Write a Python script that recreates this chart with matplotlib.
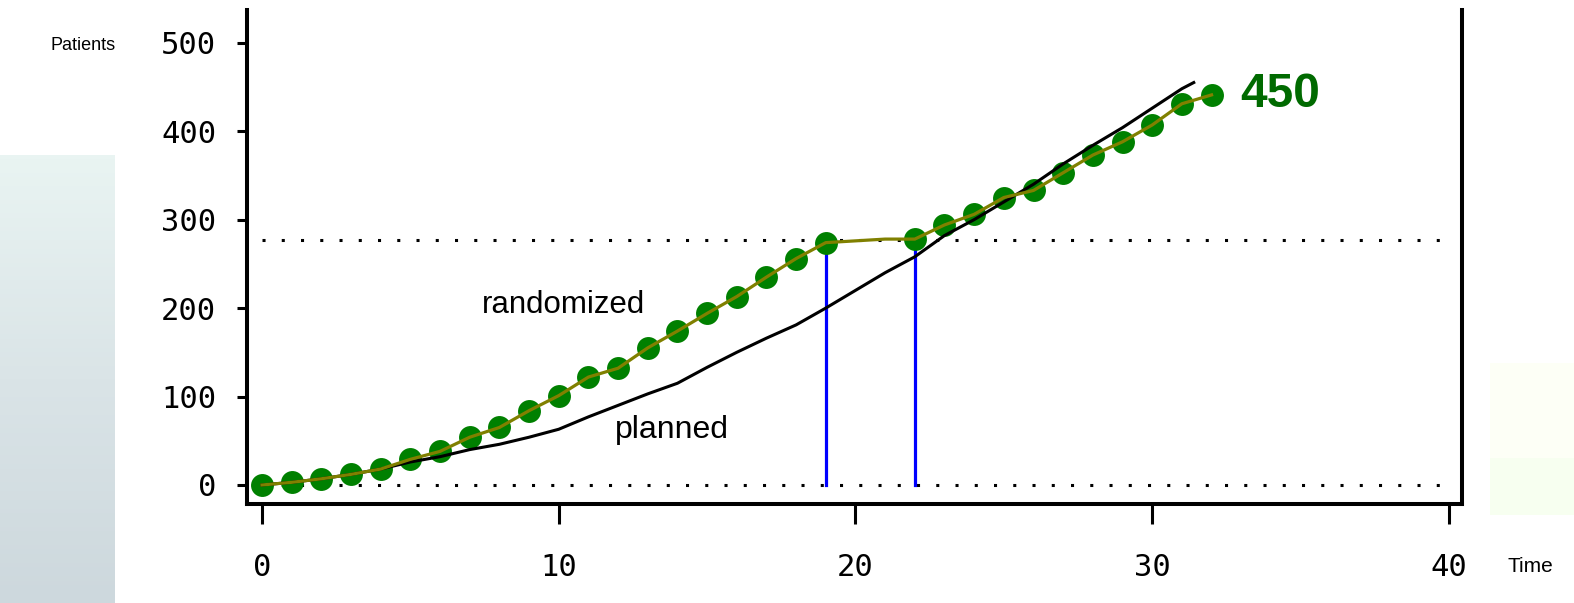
import numpy as np
import matplotlib
matplotlib.use("Agg")
import matplotlib.pyplot as plt

# randomized patients per month
rand_time = list(range(0, 33))
rand_n = [0, 3, 7, 12, 18, 29, 38, 54, 65, 84, 101, 122, 132, 155, 174, 194,
          213, 235, 256, 274, 276, 278, 278, 294, 306, 325, 333, 353, 373, 388,
          407, 431, 441]
no_marker = [20, 21]

# planned recruitment curve
plan_time = list(range(0, 32)) + [31.4]
plan_n = [0, 3, 7, 12, 18, 26, 32, 40, 46, 54, 63, 77, 90, 103, 115, 133,
          150, 166, 181, 200, 220, 240, 258, 282, 300, 320, 340, 363, 384,
          404, 426, 448, 455]

looks = [19, 22]
look_n = [274, 276]
cutoff = 277
final_n = 450

xticks = [0, 10, 20, 30, 40]
yticks = [0, 100, 200, 300, 400, 500]

W, H = 1574, 603
fig = plt.figure(figsize=(W / 100, H / 100), dpi=100)

# leftover slide background patches
bg = fig.add_axes([0, 0, 1, 1], zorder=-5)
bg.set_xlim(0, W)
bg.set_ylim(H, 0)
bg.axis("off")
grad = np.linspace(0, 1, 100).reshape(-1, 1)
cmap = matplotlib.colors.LinearSegmentedColormap.from_list("bg", ["#e9f4f2", "#dae4e7", "#cdd8dd"])
bg.imshow(grad, cmap=cmap, extent=[0, 115, 603, 155], aspect="auto")
bg.add_patch(plt.Rectangle((1490, 363), 84, 95, color="#fdfff6", lw=0))
bg.add_patch(plt.Rectangle((1490, 458), 84, 57, color="#f7fff0", lw=0))

ax = fig.add_axes([247 / W, 1 - 504 / H, (1462 - 247) / W, (504 - 10) / H])
ax.set_facecolor("none")
ax.set_xlim(-0.505, 40.44)
ax.set_ylim(-21.5, 537)

# dotted reference lines
for yy in [0, cutoff]:
    ax.plot([0, 40], [yy, yy], color="black", lw=2.2, linestyle=(0, (1, 5.3)),
            dash_capstyle="butt", zorder=1)

# interim looks
for t, n in zip(looks, look_n):
    ax.plot([t, t], [0, n], color="#0000ff", lw=2.3, zorder=2)

mx = [t for t in rand_time if t not in no_marker]
my = [n for t, n in zip(rand_time, rand_n) if t not in no_marker]
ax.plot(mx, my, "o", color="#008000", markersize=16.5, markeredgewidth=0, zorder=3)
ax.plot(plan_time, plan_n, color="black", lw=2.2, zorder=4)
ax.plot(rand_time, rand_n, color="#808000", lw=2.3, zorder=5)

ax.text(7.41, 204, "randomized", fontsize=22.5, family="Liberation Sans", va="center", ha="left")
ax.text(11.9, 62, "planned", fontsize=23, family="Liberation Sans", va="center", ha="left")
ax.text(32.98, 441, str(final_n), fontsize=34.5, fontweight="bold", family="Liberation Sans",
        color="#006a00", va="center", ha="left")

ax.spines["top"].set_visible(False)
for s in ["left", "right", "bottom"]:
    ax.spines[s].set_linewidth(2.9)

ax.set_xticks(xticks)
ax.set_yticks(yticks)
ax.tick_params(axis="x", length=14.4, width=2.2, pad=21, labelsize=22)
ax.tick_params(axis="y", length=7.2, width=2.2, pad=15, labelsize=22)
for lab in ax.get_xticklabels() + ax.get_yticklabels():
    lab.set_family("DejaVu Sans Mono")

fig.text(50 / W, 1 - 45 / H, "Patients", fontsize=13, family="Liberation Sans", va="center", ha="left")
fig.text(1508 / W, 1 - 567 / H, "Time", fontsize=15, family="Liberation Sans", va="center", ha="left")

fig.savefig("out.png", dpi=100)
